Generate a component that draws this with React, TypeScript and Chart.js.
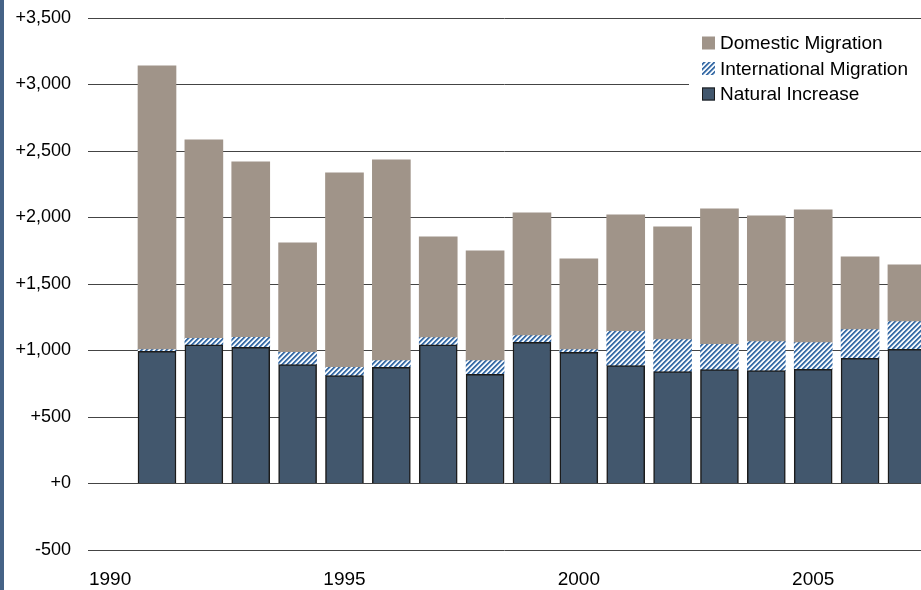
import React, { useEffect, useRef } from 'react';
import { Chart, registerables } from 'chart.js';

Chart.register(...registerables);

const years = [1991, 1992, 1993, 1994, 1995, 1996, 1997, 1998, 1999, 2000, 2001, 2002, 2003, 2004, 2005, 2006, 2007];
const naturalIncrease = [994, 1042, 1024, 894, 811, 874, 1042, 821, 1061, 986, 886, 841, 856, 849, 859, 941, 1009];
const internationalMigration = [12, 49, 75, 92, 63, 50, 55, 103, 51, 20, 258, 241, 190, 218, 200, 216, 208];
const domesticMigration = [2134, 1493, 1320, 824, 1462, 1510, 758, 826, 923, 684, 876, 848, 1019, 946, 999, 548, 428];
const xTickValues = [1990, 1995, 2000, 2005];
const yMin = -500;
const yMax = 3500;
const yStep = 500;
const legendLabels = ['Domestic Migration', 'International Migration', 'Natural Increase'];

const DOMESTIC_COLOR = '#a09489';
const NATURAL_COLOR = '#42576d';
const FONT = '"Liberation Sans", Arial, sans-serif';

function makeHatch(): CanvasPattern | string {
  const c = document.createElement('canvas');
  c.width = 5;
  c.height = 5;
  const ctx = c.getContext('2d');
  if (!ctx) return '#4a7ab0';
  const cols = ['#3a6ca5', '#3f71a9', '#9db9d8', '#ffffff', '#dfe8f2'];
  for (let x = 0; x < 5; x++) {
    for (let y = 0; y < 5; y++) {
      ctx.fillStyle = cols[(x + y) % 5];
      ctx.fillRect(x, y, 1, 1);
    }
  }
  return ctx.createPattern(c, 'repeat') || '#4a7ab0';
}

export default function App() {
  const ref = useRef<HTMLCanvasElement | null>(null);

  useEffect(() => {
    if (!ref.current) return;
    const hatch = makeHatch();

    const legendPlugin = {
      id: 'customLegend',
      afterDraw(chart: any) {
        const ctx: CanvasRenderingContext2D = chart.ctx;
        ctx.save();
        ctx.fillStyle = '#ffffff';
        ctx.fillRect(689, 30, 232, 78);
        const fills: any[] = [DOMESTIC_COLOR, hatch, NATURAL_COLOR];
        const rowY = [43, 68.5, 94];
        ctx.font = `19px ${FONT}`;
        ctx.textBaseline = 'middle';
        ctx.textAlign = 'left';
        legendLabels.forEach((label, i) => {
          const by = rowY[i] - 6.5;
          ctx.fillStyle = fills[i];
          ctx.fillRect(702, by, 13, 13);
          if (i === 2) {
            ctx.strokeStyle = '#1b1b1b';
            ctx.lineWidth = 1;
            ctx.strokeRect(702.5, by + 0.5, 12, 12);
          }
          ctx.fillStyle = '#000000';
          ctx.fillText(label, 720, rowY[i] + 1);
        });
        ctx.restore();
      },
    };

    const chart = new Chart(ref.current, {
      type: 'bar',
      data: {
        datasets: [
          {
            label: 'Natural Increase',
            data: years.map((y, i) => ({ x: y, y: naturalIncrease[i] })),
            backgroundColor: NATURAL_COLOR,
            borderColor: '#1b1b1b',
            borderWidth: 1.5,
            borderSkipped: 'bottom',
            barThickness: 38,
          },
          {
            label: 'International Migration',
            data: years.map((y, i) => ({ x: y, y: internationalMigration[i] })),
            backgroundColor: hatch as any,
            borderWidth: 0,
            barThickness: 38,
          },
          {
            label: 'Domestic Migration',
            data: years.map((y, i) => ({ x: y, y: domesticMigration[i] })),
            backgroundColor: DOMESTIC_COLOR,
            borderWidth: 0,
            barThickness: 38,
          },
        ],
      },
      options: {
        animation: false,
        responsive: false,
        devicePixelRatio: 1,
        layout: { padding: { top: 18, right: 0, bottom: 0, left: 0 } },
        plugins: {
          legend: { display: false },
          tooltip: { enabled: false },
        },
        scales: {
          x: {
            type: 'linear',
            stacked: true,
            offset: false,
            min: 1989.528,
            max: 2007.3,
            grid: { display: false, drawTicks: false },
            border: { display: false },
            ticks: {
              padding: 18,
              color: '#000',
              font: { family: FONT, size: 19 },
              callback: (v: any) => String(v),
            },
            afterBuildTicks: (scale: any) => {
              scale.ticks = xTickValues.map((v) => ({ value: v }));
            },
            afterFit: (scale: any) => {
              scale.height = 40;
              scale.paddingLeft = 0;
              scale.paddingRight = 0;
            },
          },
          y: {
            type: 'linear',
            stacked: true,
            min: yMin,
            max: yMax,
            grid: {
              color: '#444444',
              lineWidth: 1,
              drawTicks: false,
            },
            border: { display: false },
            ticks: {
              stepSize: yStep,
              padding: 17,
              color: '#000',
              font: { family: FONT, size: 18 },
              callback: (v: any) => {
                const n = Number(v);
                const s = Math.abs(n).toLocaleString('en-US');
                return n < 0 ? '-' + s : '+' + s;
              },
            },
            afterFit: (scale: any) => {
              scale.width = 88;
              scale.paddingTop = 0;
              scale.paddingBottom = 0;
            },
          },
        },
      },
      plugins: [legendPlugin],
    });

    return () => chart.destroy();
  }, []);

  return (
    <div style={{ position: 'fixed', left: 0, top: 0, width: 921, height: 590, background: '#fff' }}>
      <canvas ref={ref} width={921} height={590} style={{ position: 'absolute', left: 0, top: 0, width: 921, height: 590 }} />
      <div style={{ position: 'absolute', left: 0, top: 0, width: 4, height: 590, background: '#456386' }} />
    </div>
  );
}
